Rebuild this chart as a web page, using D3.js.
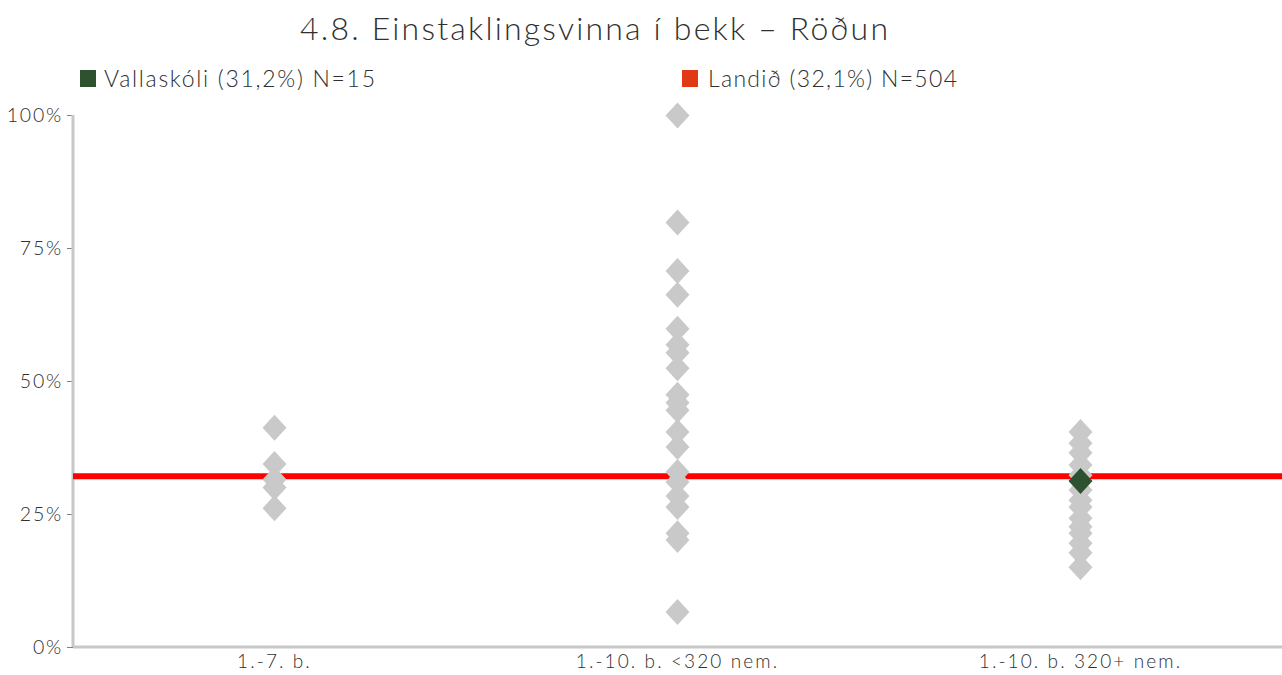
<!DOCTYPE html>
<html><head><meta charset="utf-8">
<script src="https://cdn.jsdelivr.net/npm/d3@7"></script>
<style>
body{margin:0;background:#fff;}
text{font-family:Lato,"Open Sans",sans-serif;}
</style></head>
<body><svg id="c" width="1282" height="675"></svg>
<script>
const title = "4.8. Einstaklingsvinna í bekk – Röðun";
const categories = ["1.-7. b.", "1.-10. b. <320 nem.", "1.-10. b. 320+ nem."];
const group1 = [41.2, 34.4, 31.5, 30.0, 26.1];
const group2 = [99.9, 79.8, 70.7, 66.2, 59.8, 56.8, 55.3, 52.4, 47.4, 45.9, 44.5, 40.4, 37.6, 32.9, 31.0, 28.4, 26.3, 21.4, 20.1, 6.6];
const group3 = [40.4, 38.3, 36.5, 34.2, 32.3, 29.5, 27.6, 26.3, 24.2, 22.6, 21.4, 19.5, 17.7, 15.0];
const schoolName = "Vallaskóli (31,2%) N=15";
const schoolValue = 31.2;
const schoolCategory = "1.-10. b. 320+ nem.";
const nationName = "Landið (32,1%) N=504";
const nationValue = 32.1;
const yTicks = [0, 25, 50, 75, 100];
const yTickLabels = ["0%", "25%", "50%", "75%", "100%"];

const svg = d3.select("#c");
const mLeft = 73, mRight = 1282, mTop = 115, mBottom = 647;
const x = d3.scaleBand().domain(categories).range([mLeft, mRight]);
const y = d3.scaleLinear().domain([0, 100]).range([mBottom, mTop]);
const textCol = "#303030";

svg.append("text").attr("x", 594).attr("y", 40).attr("text-anchor", "middle")
  .attr("font-size", 32).attr("fill", textCol).attr("font-weight", 300)
  .attr("textLength", 588).attr("lengthAdjust", "spacing").text(title);

// legend
const lg = svg.append("g");
lg.append("rect").attr("x", 80).attr("y", 70).attr("width", 16).attr("height", 17).attr("fill", "#2e5130");
lg.append("text").attr("x", 104).attr("y", 87).attr("font-size", 23).attr("fill", textCol).attr("font-weight", 300)
  .attr("textLength", 271).attr("lengthAdjust", "spacing").text(schoolName);
lg.append("rect").attr("x", 682).attr("y", 70).attr("width", 16).attr("height", 17).attr("fill", "#e03a14");
lg.append("text").attr("x", 708).attr("y", 87).attr("font-size", 23).attr("fill", textCol).attr("font-weight", 300)
  .attr("textLength", 249).attr("lengthAdjust", "spacing").text(nationName);

// axes
const ya = svg.append("g").attr("transform", `translate(${mLeft},0)`)
  .call(d3.axisLeft(y).tickValues(yTicks).tickFormat((d,i)=>yTickLabels[i]).tickSize(6).tickPadding(4));
ya.select(".domain").remove();
ya.selectAll(".tick line").attr("stroke", "#808080").attr("stroke-width", 1);
ya.selectAll(".tick text").attr("font-size", 19.5).attr("fill", textCol).attr("font-family", "Lato,sans-serif")
  .attr("font-weight", 300).attr("letter-spacing", 1.8);
svg.append("line").attr("x1", mLeft).attr("x2", mLeft).attr("y1", mTop).attr("y2", mBottom).attr("stroke", "#c8c8c8").attr("stroke-width", 3);

const xa = svg.append("g").attr("transform", `translate(0,${mBottom})`)
  .call(d3.axisBottom(x).tickSize(0).tickPadding(8));
xa.select(".domain").remove();
xa.selectAll(".tick text").attr("font-size", 19).attr("fill", textCol).attr("font-family", "Lato,sans-serif")
  .attr("font-weight", 300).attr("letter-spacing", 2.1);
svg.append("line").attr("x1", mLeft).attr("x2", mRight).attr("y1", mBottom).attr("y2", mBottom).attr("stroke", "#c8c8c8").attr("stroke-width", 3);

// national line
svg.append("line").attr("x1", mLeft).attr("x2", mRight).attr("y1", y(nationValue)).attr("y2", y(nationValue))
  .attr("stroke", "#ff0000").attr("stroke-width", 6);

const pts = [];
[group1, group2, group3].forEach((g, i) => g.forEach(v => pts.push({c: categories[i], v})));
const diamond = "M0,-13L12,0L0,13L-12,0Z";
svg.append("g").selectAll("path").data(pts).join("path")
  .attr("d", diamond).attr("transform", d => `translate(${x(d.c)+x.bandwidth()/2},${y(d.v)})`)
  .attr("fill", "#c9c9c9");
svg.append("path").attr("d", diamond)
  .attr("transform", `translate(${x(schoolCategory)+x.bandwidth()/2},${y(schoolValue)})`)
  .attr("fill", "#2e5130");
</script></body></html>
